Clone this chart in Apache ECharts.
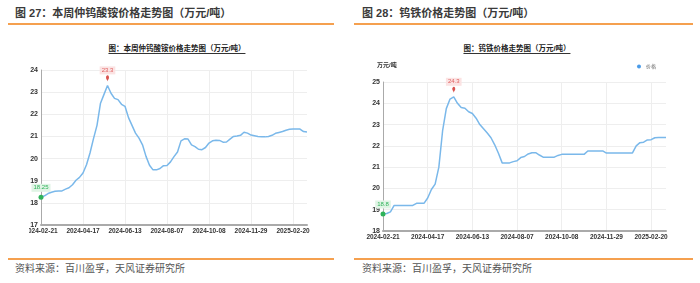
<!DOCTYPE html>
<html>
<head>
<meta charset="utf-8">
<title>钨价格走势</title>
<script src="https://cdn.jsdelivr.net/npm/echarts@6/dist/echarts.min.js"></script>
<style>
body{margin:0;width:700px;height:283px;background:#fff;position:relative;overflow:hidden;font-family:"Liberation Sans","Noto Sans CJK SC",sans-serif;}
.hd{position:absolute;top:5px;line-height:16px;font-size:11px;font-weight:bold;color:#3a3a3a;white-space:nowrap;}
.bar{position:absolute;height:2px;background:#f5a04f;}
.sub{position:absolute;top:44px;line-height:9px;font-size:7.5px;font-weight:bold;color:#222;border-bottom:1px solid #333;white-space:nowrap;transform:translateX(-50%);}
.src{position:absolute;top:262px;line-height:14px;font-size:10px;color:#555;white-space:nowrap;}
.chart{position:absolute;}
</style>
</head>
<body>
<div class="hd" style="left:15px">图 27：本周仲钨酸铵价格走势图（万元/吨）</div>
<div class="hd" style="left:362px">图 28：钨铁价格走势图（万元/吨）</div>
<div class="bar" style="left:8px;width:326px;top:23px"></div>
<div class="bar" style="left:354px;width:339px;top:23px"></div>
<div class="sub" style="left:177px">图：本周仲钨酸铵价格走势图（万元/吨）</div>
<div class="sub" style="left:517px">图：钨铁价格走势图（万元/吨）</div>
<div id="c1" class="chart" style="left:29px;top:40px;width:300px;height:205px"></div>
<div id="c2" class="chart" style="left:355px;top:40px;width:340px;height:210px"></div>
<div class="bar" style="left:8px;width:326px;top:258px"></div>
<div class="bar" style="left:354px;width:339px;top:258px"></div>
<div class="src" style="left:15px">资料来源：百川盈孚，天风证券研究所</div>
<div class="src" style="left:362px">资料来源：百川盈孚，天风证券研究所</div>
<script>
// 日期(类目轴)
var dates = [
  '2024-02-21','2024-02-26','2024-03-01','2024-03-06','2024-03-11','2024-03-15','2024-03-20','2024-03-25','2024-03-29','2024-04-03',
  '2024-04-08','2024-04-12','2024-04-17','2024-04-22','2024-04-26','2024-04-30','2024-05-06','2024-05-10','2024-05-15','2024-05-20',
  '2024-05-24','2024-05-29','2024-06-03','2024-06-07','2024-06-13','2024-06-18','2024-06-21','2024-06-26','2024-07-01','2024-07-05',
  '2024-07-10','2024-07-15','2024-07-19','2024-07-24','2024-07-29','2024-08-02','2024-08-07','2024-08-12','2024-08-16','2024-08-21',
  '2024-08-26','2024-08-30','2024-09-04','2024-09-09','2024-09-13','2024-09-19','2024-09-24','2024-09-29','2024-10-08','2024-10-12',
  '2024-10-16','2024-10-21','2024-10-25','2024-10-30','2024-11-04','2024-11-08','2024-11-13','2024-11-18','2024-11-21','2024-11-26',
  '2024-11-29','2024-12-06','2024-12-13','2024-12-20','2024-12-27','2025-01-03','2025-01-10','2025-01-17','2025-01-24','2025-02-07',
  '2025-02-12','2025-02-17','2025-02-20','2025-02-24','2025-02-26','2025-02-28','2025-03-04'
];

// 仲钨酸铵 万元/吨
var aptPrice = [
  18.25,18.32,18.42,18.48,18.52,18.54,18.54,18.62,18.68,18.82,
  19.02,19.15,19.35,19.72,20.25,20.9,21.5,22.5,22.9,23.3,
  22.95,22.72,22.66,22.45,22.36,21.85,21.5,21.15,20.92,20.62,
  20.1,19.7,19.49,19.49,19.55,19.68,19.69,19.85,20.09,20.3,
  20.8,20.89,20.88,20.62,20.54,20.42,20.4,20.5,20.7,20.8,
  20.83,20.82,20.74,20.75,20.88,21.0,21.02,21.05,21.19,21.15,
  21.06,21.03,21.0,20.99,20.98,21.0,21.05,21.14,21.18,21.22,
  21.28,21.32,21.33,21.33,21.33,21.22,21.2
];

// 钨铁 万元/吨
var feWPrice = [
  18.8,18.82,18.9,19.2,19.2,19.2,19.2,19.2,19.2,19.3,
  19.3,19.3,19.55,19.95,20.2,21.0,22.7,23.75,24.2,24.3,
  24.0,23.8,23.77,23.6,23.52,23.3,23.0,22.8,22.6,22.38,
  22.05,21.65,21.2,21.2,21.2,21.26,21.3,21.45,21.5,21.62,
  21.68,21.68,21.57,21.47,21.47,21.47,21.47,21.55,21.6,21.6,
  21.6,21.6,21.6,21.6,21.6,21.76,21.76,21.76,21.76,21.76,
  21.66,21.67,21.67,21.67,21.67,21.67,21.67,21.67,22.0,22.15,
  22.17,22.28,22.29,22.38,22.39,22.39,22.39
];

var aptRange = [17, 24];
var feWRange = [18, 25];

var lineColor = '#7ab8ea';
var fontFam = '"Liberation Sans","Noto Sans CJK SC",sans-serif';

function makeOption(data, range, grid, name, withLegend) {
  grid.outerBoundsMode = 'none';
  grid.containLabel = false;
  var opt = {
    animation: false,
    textStyle: { fontFamily: fontFam },
    grid: grid,
    xAxis: {
      type: 'category',
      data: dates,
      boundaryGap: false,
      axisLine: { lineStyle: { color: '#aaa', width: 2 } },
      axisTick: { show: false },
      axisLabel: { interval: 11, fontSize: 6.5, color: '#333', fontWeight: 'bold', margin: 3 },
      splitLine: { show: true, interval: 11, lineStyle: { color: '#eee', width: 1 } }
    },
    yAxis: {
      type: 'value',
      min: range[0],
      max: range[1],
      interval: 1,
      axisLine: { show: true, lineStyle: { color: '#aaa', width: 1 } },
      axisTick: { show: false },
      axisLabel: { fontSize: 7, color: '#333', fontWeight: 'bold', margin: 3 },
      splitLine: { lineStyle: { color: '#eee', width: 1 } }
    },
    series: [{
      name: '价格',
      type: 'line',
      data: data,
      showSymbol: false,
      lineStyle: { color: lineColor, width: 1.5 },
      itemStyle: { color: '#4a9be8' },
      markPoint: {
        data: [
          {
            type: 'max',
            symbol: 'pin',
            symbolSize: [5, 7],
            symbolOffset: [0, -4],
            itemStyle: { color: '#d9534f' },
            label: {
              position: 'top', distance: 1, fontSize: 6, color: '#e06060',
              backgroundColor: '#fbe3e3', padding: [1, 2]
            }
          },
          {
            type: 'min',
            symbol: 'circle',
            symbolSize: 5,
            itemStyle: { color: '#2fb35a' },
            label: {
              position: 'top', distance: 3, fontSize: 6, color: '#2fb35a',
              backgroundColor: '#e0f4e5', padding: [1, 2]
            }
          }
        ]
      }
    }]
  };
  if (name) {
    opt.yAxis.name = name;
    opt.yAxis.nameGap = 14;
    opt.yAxis.nameTextStyle = { fontSize: 6, color: '#333', fontWeight: 'bold', align: 'left', padding: [0, 0, 0, -6] };
  }
  if (withLegend) {
    opt.legend = {
      data: ['价格'], right: 34, top: 19, icon: 'circle',
      itemWidth: 4, itemHeight: 4, itemGap: 2,
      textStyle: { fontSize: 5, color: '#666' }
    };
  }
  return opt;
}

var c1 = echarts.init(document.getElementById('c1'));
c1.setOption(makeOption(aptPrice, aptRange, { left: 12, right: 22, top: 30, bottom: 20 }, null, false));

var c2 = echarts.init(document.getElementById('c2'));
c2.setOption(makeOption(feWPrice, feWRange, { left: 28, right: 29, top: 42, bottom: 19 }, '万元/吨', true));
</script>
</body>
</html>
